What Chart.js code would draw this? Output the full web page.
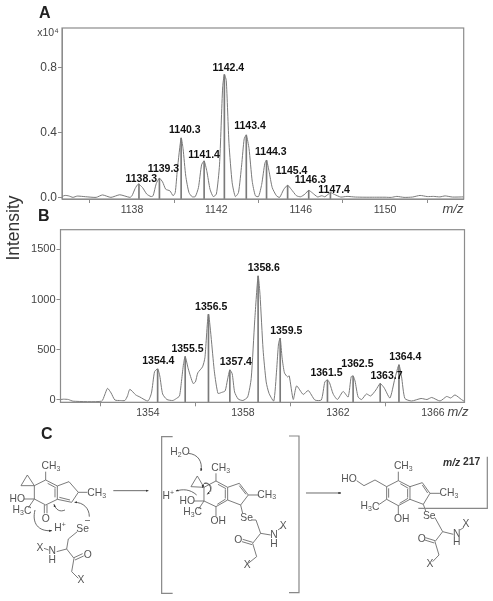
<!DOCTYPE html>
<html>
<head>
<meta charset="utf-8">
<title>Mass spectra</title>
<script src="https://cdn.jsdelivr.net/npm/chart.js@4/dist/chart.umd.min.js"></script>
<style>
  html, body { margin: 0; padding: 0; background: #fff; }
  body { position: relative; width: 493px; height: 601px; overflow: hidden; font-family: "Liberation Sans", Arial, sans-serif; }
  #page { position: absolute; left: 0; top: 0; width: 493px; height: 601px; filter: blur(0.35px); }
  canvas, svg { position: absolute; left: 0; }
  .letter { position: absolute; font-weight: bold; font-size: 16px; color: #222; line-height: 16px; }
  #ylabel { position: absolute; left: 13px; top: 228px; font-size: 17.5px; color: #333; transform: translate(-50%, -50%) rotate(-90deg); white-space: nowrap; }
  svg text { font-family: "Liberation Sans", Arial, sans-serif; font-size: 31px; fill: #555; text-anchor: middle; dominant-baseline: middle; }
  svg .bond { stroke: #666; stroke-width: 2.6; fill: none; }
  svg .arrow { stroke: #555; stroke-width: 2.6; fill: none; marker-end: url(#head); }
  svg .frame { stroke: #888; stroke-width: 3.6; fill: none; }
</style>
</head>
<body>
<div id="page">
<div class="letter" style="left:39px;top:5px">A</div>
<div class="letter" style="left:38px;top:208px">B</div>
<div class="letter" style="left:41px;top:426px">C</div>
<div id="ylabel">Intensity</div>
<canvas id="chartA" width="493" height="215" style="top:0"></canvas>
<canvas id="chartB" width="493" height="205" style="top:215px"></canvas>
<svg id="scheme" width="493" height="601" style="top:0" viewBox="0 0 493 601"></svg>
</div>

<script>
// panel A, x10^4 counts
const mzA = [1134.68,1134.82,1135.0,1135.2,1135.4,1135.8,1136.3,1136.6,1137.0,1137.42,1137.9,1138.0,1138.15,1138.3,1138.5,1138.7,1138.9,1139.0,1139.15,1139.3,1139.45,1139.6,1139.8,1139.95,1140.05,1140.15,1140.33,1140.42,1140.55,1140.7,1140.85,1141.0,1141.15,1141.3,1141.42,1141.55,1141.7,1141.85,1142.0,1142.15,1142.3,1142.38,1142.47,1142.6,1142.75,1142.9,1143.05,1143.2,1143.32,1143.42,1143.55,1143.7,1143.85,1144.0,1144.15,1144.3,1144.38,1144.5,1144.65,1144.85,1145.0,1145.2,1145.38,1145.55,1145.8,1146.0,1146.2,1146.38,1146.55,1146.8,1147.0,1147.15,1147.41,1147.6,1147.9,1148.2,1148.6,1149.0,1149.5,1150.0,1150.3,1150.56,1150.9,1151.3,1151.66,1152.0,1152.3,1152.6,1152.85,1153.2,1153.73];
const intA = [0.005,0.012,0.009,0.0,0.008,0.004,0.0,0.015,0.0,0.016,0.0,0.01,0.055,0.082,0.06,0.02,0.005,0.01,0.085,0.117,0.095,0.05,0.04,0.01,0.03,0.17,0.365,0.3,0.13,0.03,0.004,0.005,0.06,0.2,0.224,0.16,0.05,0.005,0.02,0.2,0.68,0.755,0.72,0.33,0.09,0.005,0.03,0.2,0.36,0.383,0.3,0.1,0.01,0.005,0.08,0.21,0.228,0.16,0.06,0.01,0.0,0.05,0.074,0.05,0.01,0.004,0.02,0.043,0.028,0.003,0.01,0.004,0.029,0.018,0.002,0.006,0.002,0.001,0.001,0.001,0.0,0.006,0.0,0.002,0.012,0.005,0.006,0.003,0.009,0.002,0.003];
const peakMzA = [1138.33,1139.3,1140.33,1141.42,1142.38,1143.42,1144.38,1145.38,1146.38,1147.41];
const peakIntA = [0.082,0.117,0.365,0.224,0.755,0.383,0.228,0.074,0.043,0.029];
const peakLabelsA = ["1138.3","1139.3","1140.3","1141.4","1142.4","1143.4","1144.3","1145.4","1146.3","1147.4"];
const xTicksA = [1138,1142,1146,1150];
const yTicksA = [0,0.4,0.8];

// panel B
const mzB = [1350.32,1350.45,1350.65,1350.85,1352.05,1352.18,1352.3,1352.45,1352.61,1352.85,1353.03,1353.14,1353.24,1353.49,1353.66,1354.0,1354.15,1354.28,1354.41,1354.5,1354.62,1354.8,1355.05,1355.2,1355.33,1355.42,1355.5,1355.57,1355.7,1355.9,1356.0,1356.1,1356.3,1356.4,1356.55,1356.8,1356.95,1357.1,1357.25,1357.35,1357.45,1357.55,1357.65,1357.8,1358.0,1358.2,1358.35,1358.5,1358.64,1358.72,1358.85,1358.98,1359.1,1359.3,1359.42,1359.5,1359.57,1359.65,1359.75,1359.88,1359.95,1360.12,1360.26,1360.54,1360.75,1361.03,1361.3,1361.45,1361.56,1361.65,1361.8,1361.98,1362.22,1362.43,1362.56,1362.64,1362.72,1362.85,1363.0,1363.2,1363.38,1363.6,1363.78,1363.95,1364.19,1364.4,1364.57,1364.68,1364.82,1365.1,1365.5,1365.75,1365.95,1366.3,1366.58,1366.75,1366.93,1367.2,1367.33];
const intB = [5,8,5,-12,-12,50,116,70,0,-5,-5,40,106,50,30,-10,70,282,309,240,60,5,-5,15,40,200,360,432,310,165,180,270,330,420,853,280,66,75,90,200,299,260,80,10,-5,30,216,800,1235,1050,500,180,66,-10,300,560,614,420,270,230,240,5,140,55,95,0,0,180,199,170,60,5,85,30,232,239,190,30,5,60,40,100,163,120,20,215,349,230,15,-10,15,5,25,-10,35,20,50,5,-15];
const peakMzB = [1354.41,1355.57,1356.55,1357.45,1358.64,1359.57,1361.56,1362.64,1363.78,1364.57];
const peakIntB = [309,432,853,299,1235,614,199,239,163,349];
const peakLabelsB = ["1354.4","1355.5","1356.5","1357.4","1358.6","1359.5","1361.5","1362.5","1363.7","1364.4"];
const xTicksB = [1354,1358,1362,1366];
const yTicksB = [0,500,1000,1500];

const labelOffsetsA = [[2.3,-5],[4,-9],[3.7,-8.3],[0,-6.3],[4,-6.7],[3.7,-8.7],[4.3,-8.7],[4,-14.3],[1.7,-10.3],[3.7,-2.7]];
const labelOffsetsB = [[0.7,-8],[2.3,-8],[2.7,-7.7],[6,-7.7],[5.7,-8.3],[6,-7.3],[-1,-7.3],[4.3,-12.3],[6.3,-8],[6.3,-8]];

const GREY = "#7a7a7a";
const AXIS = "#8c8c8c";
const TICK_TEXT = "#444";

// draws the box, peak labels and the m/z axis caption
const annotate = {
  id: "annotate",
  afterDraw(chart, args, o) {
    const { ctx, chartArea: a, scales } = chart;
    ctx.save();
    ctx.strokeStyle = AXIS;
    ctx.lineWidth = 1.2;
    ctx.strokeRect(a.left, a.top, a.right - a.left, a.bottom - a.top);
    ctx.fillStyle = "#111";
    ctx.font = 'bold 10.5px "Liberation Sans"';
    ctx.textAlign = "center";
    ctx.textBaseline = "middle";
    o.labels.forEach((txt, i) => {
      const px = scales.x.getPixelForValue(o.mz[i]) + o.offsets[i][0];
      const py = scales.y.getPixelForValue(o.heights[i]) + o.offsets[i][1];
      ctx.fillText(txt, px, py);
    });
    ctx.fillStyle = TICK_TEXT;
    ctx.font = 'italic 13px "Liberation Sans"';
    ctx.fillText("m/z", o.capX, o.capY);
    if (o.unit) {
      ctx.font = '10.5px "Liberation Sans"';
      ctx.fillText(o.unit, 48, 33);
    }
    ctx.restore();
  }
};

function spectrum(id, mz, ints, peakMz, peakInt, labels, offsets, xTicks, yTicks, box, fmt, extra) {
  return new Chart(document.getElementById(id), {
    type: "line",
    data: {
      datasets: [
        {
          type: "line",
          data: mz.map((x, i) => ({ x: x, y: ints[i] })),
          borderColor: GREY,
          borderWidth: 1,
          pointRadius: 0,
          tension: 0.2
        },
        {
          type: "bar",
          data: peakMz.map((x, i) => ({ x: x, y: peakInt[i] })),
          backgroundColor: GREY,
          base: box.yMin,
          barThickness: 1
        }
      ]
    },
    options: {
      responsive: false,
      animation: false,
      layout: { padding: { top: box.top, right: box.right, left: 0, bottom: 0 } },
      plugins: {
        legend: { display: false },
        tooltip: { enabled: false },
        annotate: Object.assign({ labels: labels, mz: peakMz, heights: peakInt, offsets: offsets }, extra)
      },
      scales: {
        x: {
          type: "linear",
          offset: false,
          min: box.xMin,
          max: box.xMax,
          afterBuildTicks: s => { s.ticks = xTicks.map(v => ({ value: v })); },
          afterFit: s => { s.height = box.bottom; },
          grid: { drawOnChartArea: false, tickLength: 4, color: AXIS },
          border: { color: AXIS },
          ticks: { autoSkip: false, maxRotation: 0, padding: 1, color: TICK_TEXT, font: { family: "Liberation Sans", size: 10.5 }, callback: v => String(v) }
        },
        y: {
          type: "linear",
          min: box.yMin,
          max: box.yMax,
          afterBuildTicks: s => { s.ticks = yTicks.map(v => ({ value: v })); },
          afterFit: s => { s.width = box.left; },
          grid: { drawOnChartArea: false, tickLength: 4, color: AXIS },
          border: { color: AXIS },
          ticks: { padding: 1, color: TICK_TEXT, font: { family: "Liberation Sans", size: box.tickSize }, callback: fmt }
        }
      }
    },
    plugins: [annotate]
  });
}

spectrum("chartA", mzA, intA, peakMzA, peakIntA, peakLabelsA, labelOffsetsA, xTicksA, yTicksA,
  { xMin: 1134.68, xMax: 1153.73, yMin: -0.01, yMax: 1.042, left: 62, right: 29.3, top: 28, bottom: 16, tickSize: 12 },
  v => v.toFixed(1), { capX: 453, capY: 209, unit: "x10\u2074" });

spectrum("chartB", mzB, intB, peakMzB, peakIntB, peakLabelsB, labelOffsetsB, xTicksB, yTicksB,
  { xMin: 1350.32, xMax: 1367.33, yMin: -23, yMax: 1696, left: 60.5, right: 28.5, top: 14.7, bottom: 17.7, tickSize: 11 },
  v => String(v), { capX: 458, capY: 197.7 });

// reaction scheme, not chart data: traced in 3x units, one group per crop origin
const CH3 = 'CH<tspan font-size="21" dy="7">3</tspan>';
const H3C = 'H<tspan font-size="21" dy="7">3</tspan><tspan dy="-7">C</tspan>';
const H2O = 'H<tspan font-size="21" dy="7">2</tspan><tspan dy="-7">O</tspan>';
const HP = 'H<tspan font-size="21" dy="-9">+</tspan>';
const l = (pts, c) => `<polyline class="${c || "bond"}" points="${pts}"/>`;
const t = (x, y, s, extra) => `<text x="${x}" y="${y}" ${extra || ""}>${s}</text>`;
const arc = d => `<path class="arrow" d="${d}"/>`;

const mol1 = [
  l("137,170 137,195 172,213 172,253 137,270 103,252 103,212 137,195"),
  l("143,205 167,218"), l("165,220 165,247"), l("172,213 207,200 235,232 215,262 172,253"), l("178,247 210,255"),
  l("103,212 63,212 82,180 103,212"), l("235,232 262,232"), l("133,270 133,295"), l("141,270 141,295"),
  l("72,252 103,252"), l("103,252 85,278"),
  l("232,350 205,372 200,402 170,410"), l("200,402 222,430 215,470 235,490"), l("222,428 248,416"), l("225,435 251,423"), l("132,400 146,405"),
  arc("M105,285 C95,325 115,350 155,347"), arc("M268,305 C268,280 250,262 224,262"), arc("M195,285 C180,292 168,285 162,268"),
  l("340,227 445,227", "arrow"),
  t(153,155,CH3), t(290,235,CH3), t(52,252,"HO"), t(66,287,H3C), t(137,312,"O"), t(180,340,HP), t(248,343,"Se"), t(262,318,"\u2212"),
  t(120,400,"X"), t(157,410,"N"), t(157,435,"H"), t(263,420,"O"), t(243,497,"X"),
  // intermediate
  l("518,65 485,65 485,535 518,535", "frame"),
  l("648,175 648,198 683,217 683,255 648,275 612,258 612,217 648,198"),
  l("654,208 678,221"), l("676,223 676,250"), l("652,268 677,252"), l("683,217 718,205 745,240 722,270 683,255"), l("718,212 738,238"),
  l("612,217 573,215 592,183 612,217"), l("745,240 775,240"), l("648,275 648,303"), l("612,258 596,282"), l("582,258 612,258"),
  l("722,270 728,295"),
  l("755,315 768,315 782,355 812,360"), l("782,355 758,385 770,425 745,445"), l("758,382 728,373"), l("756,389 726,380"), l("834,345 848,335"),
  arc("M565,115 C595,118 608,140 603,168"), arc("M590,240 C570,222 548,222 528,228"), arc("M632,230 C636,205 610,192 608,218"), arc("M612,205 C636,205 640,220 622,238"),
  t(540,112,H2O), t(662,160,CH3), t(800,240,CH3), t(505,243,HP), t(562,258,"HO"), t(578,292,H3C), t(655,318,"OH"), t(740,310,"Se"),
  t(715,375,"O"), t(822,362,"N"), t(822,388,"H"), t(850,333,"X"), t(742,452,"X")
].join("");

const mol2 = [
  l("147,63 177,63 177,533 147,533", "frame"),
  l("198,234 303,234", "arrow"),
  l("475,170 475,197 510,215 510,253 475,272 440,253 440,215 475,197"),
  l("481,206 505,220"), l("503,222 503,248"), l("479,265 504,250"), l("446,220 446,248"),
  l("510,215 547,203 570,235 550,268 510,253"), l("547,210 563,234"),
  l("570,235 600,235"), l("415,270 440,253"), l("475,272 475,300"),
  l("350,197 372,212 405,195 440,215"), l("550,268 558,290"),
  l("585,308 608,350 640,358"), l("608,350 585,380 597,420 578,440"), l("585,377 556,368"), l("583,384 554,375"), l("660,345 672,337"),
  l("742,125 742,280 535,280", "frame"),
  t(490,155,CH3), t(627,235,CH3), t(390,275,H3C), t(485,313,"OH"), t(327,193,"HO"), t(568,305,"Se"),
  t(650,358,"N"), t(650,382,"H"), t(678,328,"X"), t(545,372,"O"), t(570,447,"X"),
  t(665,143,'<tspan font-style="italic">m/z</tspan> 217', 'font-weight="bold" font-size="27" style="fill:#333"')
].join("");

document.getElementById("scheme").innerHTML =
  '<defs><marker id="head" markerWidth="9" markerHeight="8" refX="7" refY="3" orient="auto" markerUnits="userSpaceOnUse" viewBox="0 0 8 6"><path d="M0,0 L8,3 L0,6 z" fill="#333"/></marker></defs>' +
  `<g transform="translate(0,415) scale(0.3333)">${mol1}</g>` +
  `<g transform="translate(240,415) scale(0.3333)">${mol2}</g>`;
</script>
</body>
</html>
